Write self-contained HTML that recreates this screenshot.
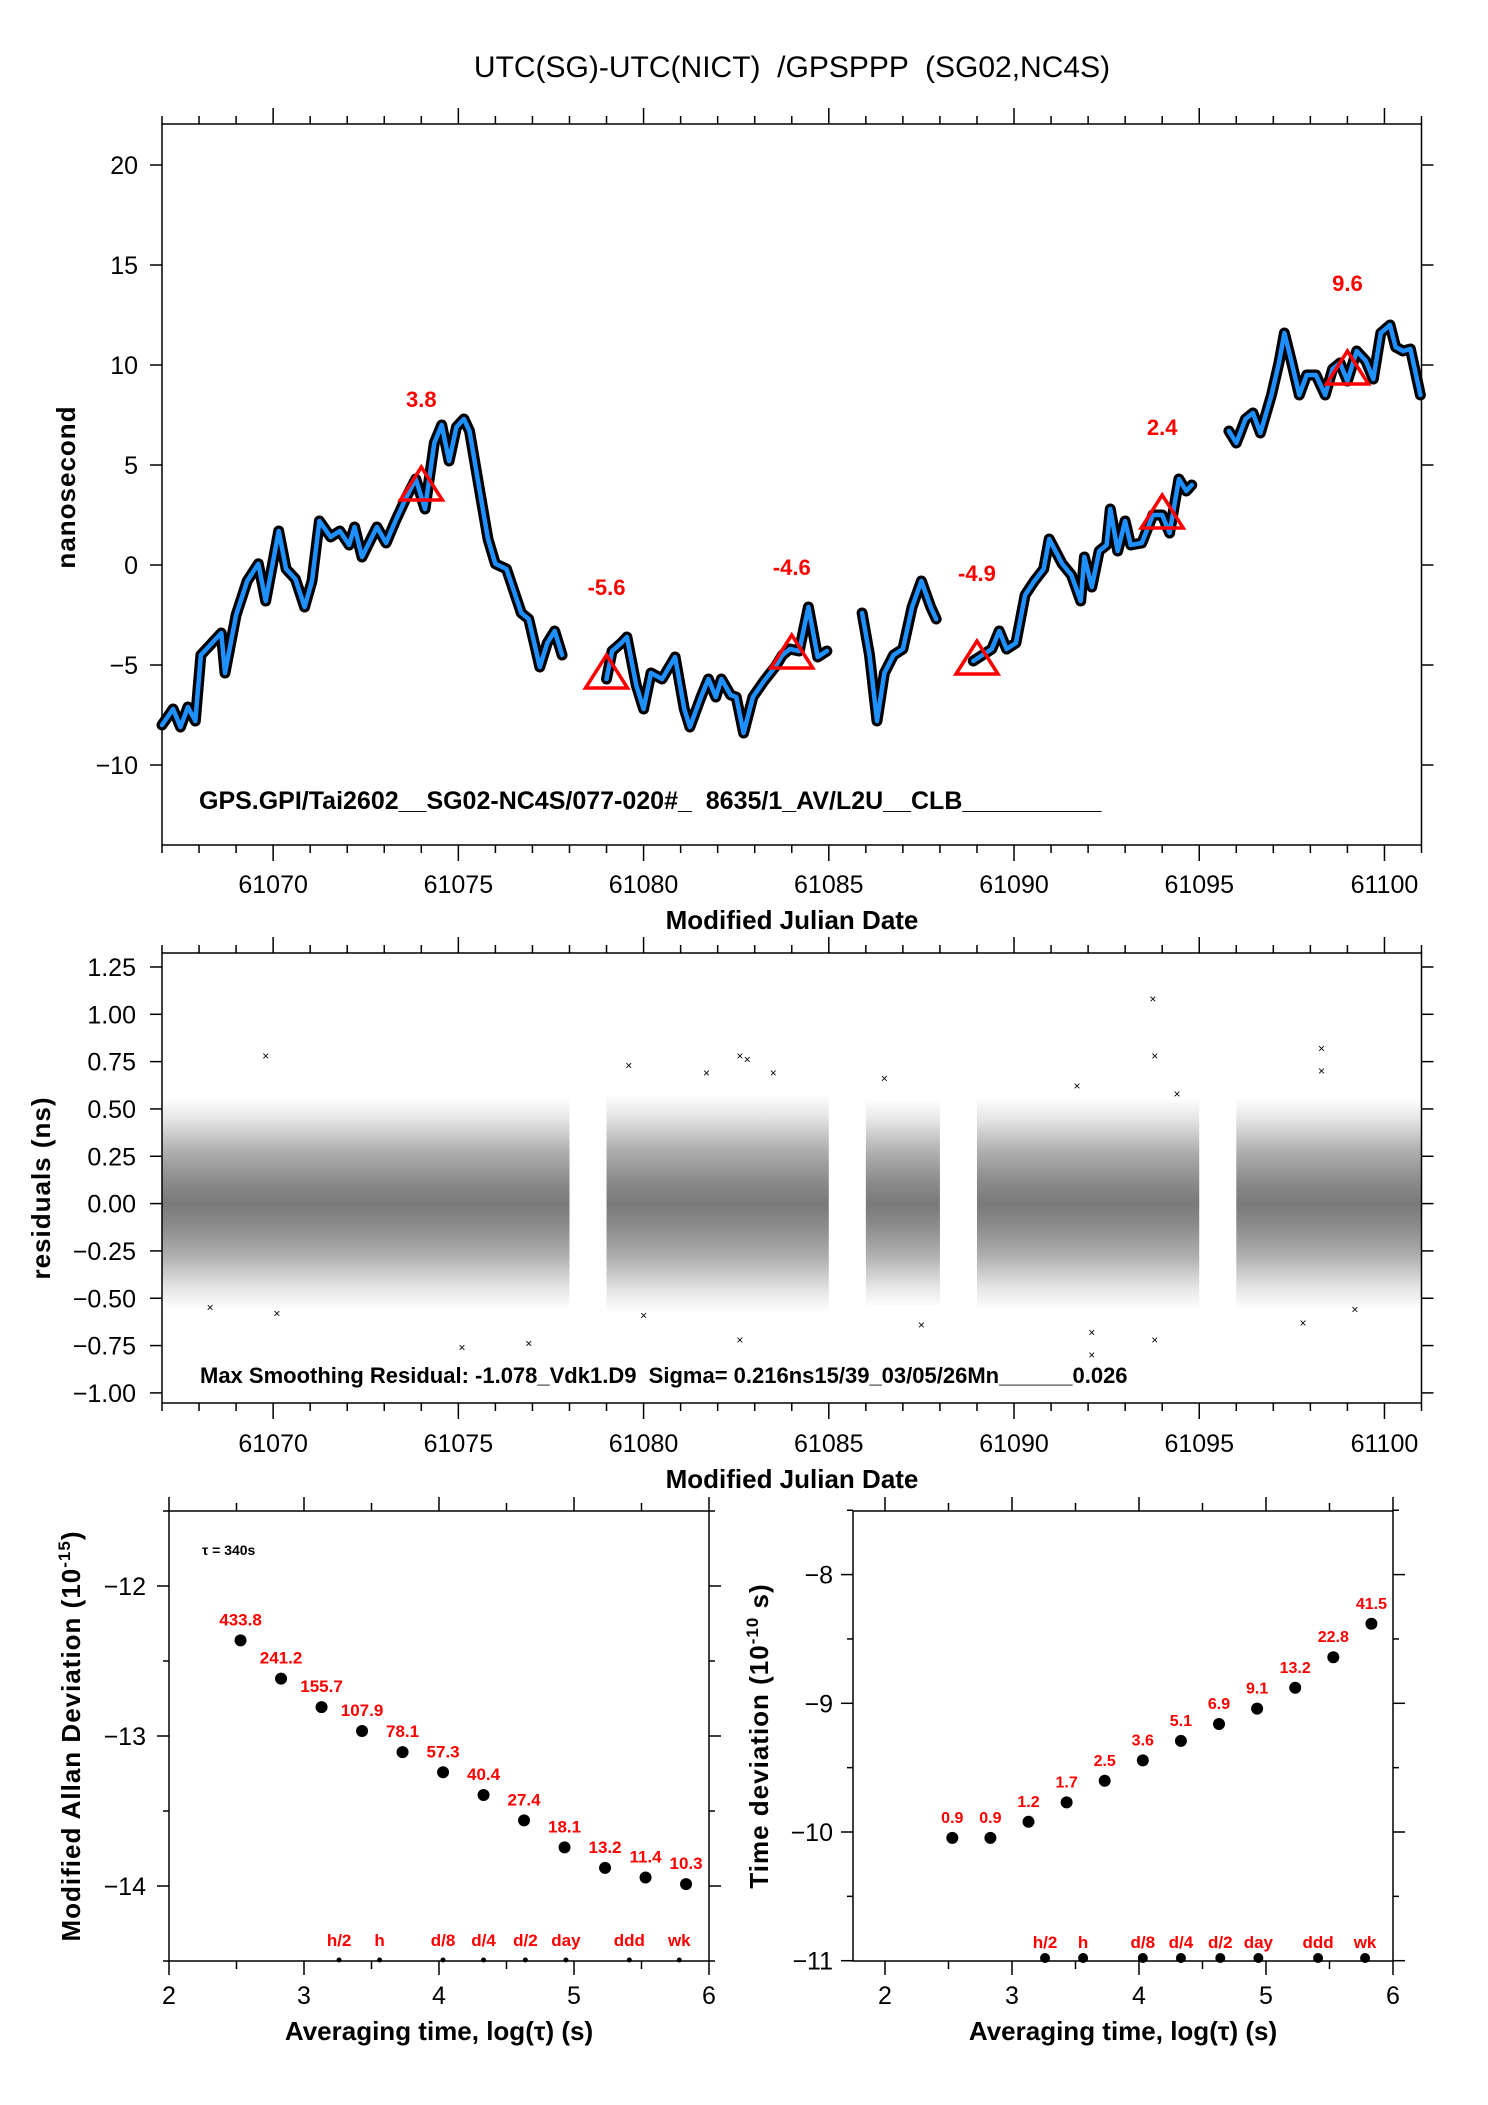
<!DOCTYPE html>
<html><head><meta charset="utf-8"><title>UTC(SG)-UTC(NICT) GPSPPP</title>
<style>
html,body{margin:0;padding:0;background:#fff;}
svg{display:block;font-family:"Liberation Sans",sans-serif;}
text{white-space:pre;}
.tk{font-size:25px;fill:#000;}
.lab{font-size:26px;font-weight:bold;fill:#000;}
.red{fill:#f00;font-weight:bold;}
</style></head>
<body>
<svg id="chart" width="1488" height="2105" viewBox="0 0 1488 2105" xmlns="http://www.w3.org/2000/svg">
<defs>
<linearGradient id="cloud" x1="0" y1="0" x2="0" y2="1">
<stop offset="0" stop-color="#fff"/>
<stop offset="0.1" stop-color="#e6e6e6"/>
<stop offset="0.25" stop-color="#b0b0b0"/>
<stop offset="0.4" stop-color="#8a8a8a"/>
<stop offset="0.5" stop-color="#7a7a7a"/>
<stop offset="0.6" stop-color="#8a8a8a"/>
<stop offset="0.75" stop-color="#b0b0b0"/>
<stop offset="0.9" stop-color="#e6e6e6"/>
<stop offset="1" stop-color="#fff"/>
</linearGradient>
</defs>
<text x="792" y="77" text-anchor="middle" font-size="30">UTC(SG)-UTC(NICT)  /GPSPPP  (SG02,NC4S)</text>
<g id="g"></g>
</svg>
<script>
// ---- top panel data ----
const seg1Mjd=[61067.0,61067.3,61067.5,61067.7,61067.9,61068.05,61068.3,61068.6,61068.7,61069.0,61069.3,61069.6,61069.8,61070.15,61070.35,61070.6,61070.85,61071.05,61071.25,61071.55,61071.8,61072.05,61072.2,61072.4,61072.8,61073.05,61073.3,61073.6,61073.85,61074.1,61074.35,61074.55,61074.75,61074.95,61075.15,61075.3,61075.55,61075.8,61076.0,61076.3,61076.5,61076.7,61076.9,61077.05,61077.2,61077.4,61077.6,61077.8];
const seg1Val=[-8.0,-7.2,-8.1,-7.1,-7.8,-4.5,-4.0,-3.4,-5.4,-2.5,-0.8,0.06,-1.8,1.7,-0.2,-0.7,-2.1,-0.8,2.2,1.4,1.7,1.0,1.9,0.4,1.9,1.1,2.2,3.4,4.3,2.8,6.1,7.0,5.2,6.9,7.3,6.7,4.0,1.3,0.06,-0.2,-1.3,-2.4,-2.7,-3.9,-5.1,-3.9,-3.3,-4.5];
const seg2Mjd=[61079.0,61079.15,61079.4,61079.55,61079.8,61080.0,61080.2,61080.5,61080.85,61081.1,61081.25,61081.55,61081.75,61081.95,61082.1,61082.35,61082.5,61082.7,61082.95,61083.25,61083.55,61083.75,61083.95,61084.2,61084.45,61084.7,61084.95];
const seg2Val=[-5.7,-4.3,-3.9,-3.6,-6.0,-7.2,-5.4,-5.7,-4.6,-7.2,-8.1,-6.6,-5.7,-6.6,-5.7,-6.5,-6.6,-8.4,-6.6,-5.8,-5.1,-4.5,-4.2,-4.3,-2.1,-4.6,-4.3];
const seg3Mjd=[61085.9,61086.1,61086.3,61086.5,61086.75,61087.0,61087.25,61087.5,61087.75,61087.9];
const seg3Val=[-2.4,-4.5,-7.8,-5.4,-4.5,-4.2,-2.1,-0.8,-2.1,-2.7];
const seg4Mjd=[61088.9,61089.15,61089.4,61089.6,61089.8,61090.05,61090.3,61090.55,61090.8,61090.95,61091.3,61091.55,61091.8,61091.9,61092.1,61092.3,61092.5,61092.6,61092.8,61093.0,61093.15,61093.45,61093.75,61094.0,61094.2,61094.45,61094.65,61094.8];
const seg4Val=[-4.8,-4.5,-4.2,-3.3,-4.2,-3.9,-1.5,-0.8,-0.2,1.3,0.06,-0.5,-1.8,0.4,-1.1,0.7,1.0,2.8,0.7,2.2,1.0,1.1,2.5,2.5,1.6,4.3,3.7,4.0];
const seg5Mjd=[61095.8,61096.0,61096.25,61096.45,61096.65,61096.95,61097.15,61097.3,61097.5,61097.7,61097.9,61098.15,61098.4,61098.6,61098.8,61099.0,61099.25,61099.5,61099.7,61099.9,61100.15,61100.3,61100.5,61100.7,61100.97];
const seg5Val=[6.7,6.1,7.3,7.6,6.6,8.5,10.1,11.6,10.1,8.5,9.5,9.5,8.5,9.8,10.1,9.2,10.7,10.2,9.3,11.6,12.0,10.9,10.7,10.8,8.5];
const triMjd=[61074,61079,61084,61089,61094,61099];
const triVal=[3.8,-5.6,-4.6,-4.9,2.4,9.6];
const topYTicks=[-10,-5,0,5,10,15,20];
const mjdTicks=[61070,61075,61080,61085,61090,61095,61100];
// ---- residual panel data ----
const resSegStart=[61067.0,61079.0,61086.0,61089.0,61096.0];
const resSegEnd=[61078.0,61085.0,61088.0,61095.0,61101.0];
const resSpread=[0.56,0.58,0.55,0.56,0.56];
const outMjd=[61069.8,61075.1,61076.9,61079.6,61082.6,61082.8,61082.6,61092.1,61092.1,61093.75,61093.8,61093.8,61098.3,61098.3,61097.8,61086.5,61087.5,61083.5,61081.7,61070.1,61068.3,61080.0,61091.7,61099.2,61094.4];
const outVal=[0.78,-0.76,-0.74,0.73,0.78,0.76,-0.72,-0.8,-0.68,1.08,0.78,-0.72,0.82,0.70,-0.63,0.66,-0.64,0.69,0.69,-0.58,-0.55,-0.59,0.62,-0.56,0.58];
const resTicks=[-1.00,-0.75,-0.50,-0.25,0.00,0.25,0.50,0.75,1.00,1.25];
// ---- stability data ----
const logTau=[2.53,2.83,3.13,3.43,3.73,4.03,4.33,4.63,4.93,5.23,5.53,5.83];
const madevVal=[433.8,241.2,155.7,107.9,78.1,57.3,40.4,27.4,18.1,13.2,11.4,10.3];
const tdevLogTau=[2.53,2.83,3.13,3.43,3.73,4.03,4.33,4.63,4.93,5.23,5.53,5.83];
const tdevVal=[0.9,0.9,1.2,1.7,2.5,3.6,5.1,6.9,9.1,13.2,22.8,41.5];
const markNames=["h/2","h","d/8","d/4","d/2","day","ddd","wk"];
const markLog=[3.26,3.56,4.03,4.33,4.64,4.94,5.41,5.78];
const logTicks=[2,3,4,5,6];
const madevTicks=[-14,-13,-12];
const tdevTicks=[-11,-10,-9,-8];

const NS="http://www.w3.org/2000/svg";
const G=document.getElementById('g');
function mk(tag,attrs,parent,txt){const e=document.createElementNS(NS,tag);for(const k in attrs)e.setAttribute(k,attrs[k]);if(txt!==undefined)e.textContent=txt;(parent||G).appendChild(e);return e;}
function fmt(v){return (v<0?'\u2212':'')+Math.abs(v);}
function fmt2(v){return (v<0?'\u2212':'')+Math.abs(v).toFixed(2);}

// scales
const XL=162, XR=1421.5;
const xT=m=>XL+(m-61067)*(XR-XL)/34;
const yT=v=>565-20*v;
const yR=v=>1203.6-189.3*v;
const xA=l=>169+(l-2)*135;
const yA=v=>1886-150*(v+14);
const xD=l=>885+(l-2)*127;
const yD=v=>1832-128.7*(v+10);

function frame(x0,y0,x1,y1,name){
  const r=mk('rect',{x:x0,y:y0,width:x1-x0,height:y1-y0,fill:'none',stroke:'#000','stroke-width':1.5});
  
  
}
function line(x1,y1,x2,y2,w){mk('line',{x1,y1,x2,y2,stroke:'#000','stroke-width':w||1.5});}

// ===== TOP PANEL =====
frame(XL,124,XR,845,'top-plot-frame');
for(let d=61067;d<=61101;d++){
  const big=d%5===0, x=xT(d);
  line(x,124,x,big?108:116); line(x,845,x,big?861:853);
}
topYTicks.forEach(v=>{
  const y=yT(v); line(XL,y,XL-12,y); line(XR,y,XR+12,y);
  const t=mk('text',{x:138,y:y+9,'text-anchor':'end',class:'tk'},G,fmt(v));
  
  
});
mjdTicks.forEach(m=>{
  const t=mk('text',{x:xT(m),y:893,'text-anchor':'middle',class:'tk'},G,m);
  
  
});
[[seg1Mjd,seg1Val],[seg2Mjd,seg2Val],[seg3Mjd,seg3Val],[seg4Mjd,seg4Val],[seg5Mjd,seg5Val]].forEach((s,i)=>{
  const pts=s[0].map((m,j)=>xT(m).toFixed(1)+','+yT(s[1][j]).toFixed(1)).join(' ');
  const b=mk('polyline',{points:pts,fill:'none',stroke:'#000','stroke-width':11,'stroke-linejoin':'round','stroke-linecap':'round'});
  
  
  const l=mk('polyline',{points:pts,fill:'none',stroke:'#1e90ff','stroke-width':4.5,'stroke-linejoin':'round','stroke-linecap':'round'});
  
  
});
triMjd.forEach((m,i)=>{
  const x=xT(m), y=yT(triVal[i]);
  const p=mk('polygon',{points:`${x-21},${y+11} ${x+21},${y+11} ${x},${y-22}`,fill:'none',stroke:'#f00','stroke-width':3.5});
  
  
  const t=mk('text',{x:x,y:yT(triVal[i]+4.5)+8,'text-anchor':'middle','font-size':22,class:'red'},G,triVal[i].toFixed(1));
  
  
});
let t;
t=mk('text',{x:199,y:809,'font-size':25,'font-weight':'bold'},G,'GPS.GPI/Tai2602__SG02-NC4S/077-020#_  8635/1_AV/L2U__CLB__________');
 
t=mk('text',{x:792,y:929,'text-anchor':'middle',class:'lab'},G,'Modified Julian Date');
 
t=mk('text',{x:0,y:0,transform:'translate(75,487) rotate(-90)','text-anchor':'middle',class:'lab','letter-spacing':'1'},G,'nanosecond');
 

// ===== RESIDUAL PANEL =====
resSegStart.forEach((s,i)=>{
  const r=mk('rect',{x:xT(s),y:yR(resSpread[i]),width:xT(resSegEnd[i])-xT(s),height:yR(-resSpread[i])-yR(resSpread[i]),fill:'url(#cloud)'});
  
  
});
outMjd.forEach((m,i)=>{
  const p=mk('text',{x:xT(m),y:yR(outVal[i])+4,'text-anchor':'middle','font-size':12},G,'\u00d7');
  
  
});
frame(XL,953,XR,1403,'residual-plot-frame');
for(let d=61067;d<=61101;d++){
  const big=d%5===0, x=xT(d);
  line(x,953,x,big?937:945); line(x,1403,x,big?1419:1411);
}
resTicks.forEach(v=>{
  const y=yR(v); line(XL,y,XL-12,y); line(XR,y,XR+12,y);
  t=mk('text',{x:136,y:y+9,'text-anchor':'end',class:'tk'},G,fmt2(v));
   
});
mjdTicks.forEach(m=>{
  t=mk('text',{x:xT(m),y:1452,'text-anchor':'middle',class:'tk'},G,m);
   
});
t=mk('text',{x:200,y:1383,'font-size':22,'font-weight':'bold'},G,'Max Smoothing Residual: -1.078_Vdk1.D9  Sigma= 0.216ns15/39_03/05/26Mn______0.026');
 
t=mk('text',{x:792,y:1488,'text-anchor':'middle',class:'lab'},G,'Modified Julian Date');
 
t=mk('text',{x:0,y:0,transform:'translate(50,1188) rotate(-90)','text-anchor':'middle',class:'lab','letter-spacing':'1'},G,'residuals (ns)');
 

// ===== MODIFIED ALLAN DEVIATION =====
frame(169,1511,709,1961,'madev-plot-frame');
for(let l=2;l<=6.001;l+=0.5){const x=xA(l),big=Math.abs(l-Math.round(l))<0.01; line(x,1511,x,big?1497:1503); line(x,1961,x,big?1975:1969);}
for(let v=-14.5;v<=-11.5;v+=0.5){const y=yA(v),big=Math.abs(v-Math.round(v))<0.01; line(169,y,big?157:163,y); line(709,y,big?721:715,y);}
madevTicks.forEach(v=>{t=mk('text',{x:146,y:yA(v)+9,'text-anchor':'end',class:'tk'},G,fmt(v));
   });
logTicks.forEach(l=>{t=mk('text',{x:xA(l),y:2004,'text-anchor':'middle',class:'tk'},G,l);
   });
logTau.forEach((l,i)=>{
  const y=yA(Math.log10(madevVal[i])-15);
  const c=mk('circle',{cx:xA(l),cy:y,r:6,fill:'#000'});
   
  t=mk('text',{x:xA(l),y:y-15,'text-anchor':'middle','font-size':17,class:'red'},G,madevVal[i].toFixed(1));
   
});
markLog.forEach((l,i)=>{
  const c=mk('circle',{cx:xA(l),cy:1960,r:2.5,fill:'#000'});
   
  t=mk('text',{x:xA(l),y:1946,'text-anchor':'middle','font-size':17,class:'red'},G,markNames[i]);
   
});
t=mk('text',{x:202,y:1555,'font-size':14,'font-weight':'bold'},G,'\u03c4 = 340s');
 
t=mk('text',{x:439,y:2040,'text-anchor':'middle',class:'lab'},G,'Averaging time, log(\u03c4) (s)');
 
t=mk('text',{x:0,y:0,transform:'translate(80,1736) rotate(-90)','text-anchor':'middle',class:'lab','letter-spacing':'1'},G);
 
t.innerHTML='Modified Allan Deviation (10<tspan dy="-10" font-size="17">-15</tspan><tspan dy="10">)</tspan>';

// ===== TIME DEVIATION =====
frame(853,1511,1393,1961,'tdev-plot-frame');
for(let l=2;l<=6.001;l+=0.5){const x=xD(l),big=Math.abs(l-Math.round(l))<0.01; line(x,1511,x,big?1497:1503); line(x,1961,x,big?1975:1969);}
for(let v=-11;v<=-7.5;v+=0.5){const y=yD(v),big=Math.abs(v-Math.round(v))<0.01; line(853,y,big?841:847,y); line(1393,y,big?1405:1399,y);}
tdevTicks.forEach(v=>{t=mk('text',{x:833,y:yD(v)+9,'text-anchor':'end',class:'tk'},G,fmt(v));
   });
logTicks.forEach(l=>{t=mk('text',{x:xD(l),y:2004,'text-anchor':'middle',class:'tk'},G,l);
   });
tdevLogTau.forEach((l,i)=>{
  const y=yD(Math.log10(tdevVal[i])-10);
  const c=mk('circle',{cx:xD(l),cy:y,r:6,fill:'#000'});
   
  t=mk('text',{x:xD(l),y:y-15,'text-anchor':'middle','font-size':16,class:'red'},G,tdevVal[i].toFixed(1));
   
});
markLog.forEach((l,i)=>{
  const c=mk('circle',{cx:xD(l),cy:1958,r:5,fill:'#000'});
   
  t=mk('text',{x:xD(l),y:1948,'text-anchor':'middle','font-size':17,class:'red'},G,markNames[i]);
   
});
t=mk('text',{x:1123,y:2040,'text-anchor':'middle',class:'lab'},G,'Averaging time, log(\u03c4) (s)');
 
t=mk('text',{x:0,y:0,transform:'translate(768,1736) rotate(-90)','text-anchor':'middle',class:'lab','letter-spacing':'1'},G);
 
t.innerHTML='Time deviation (10<tspan dy="-10" font-size="17">-10</tspan><tspan dy="10"> s)</tspan>';
</script>
</body></html>
